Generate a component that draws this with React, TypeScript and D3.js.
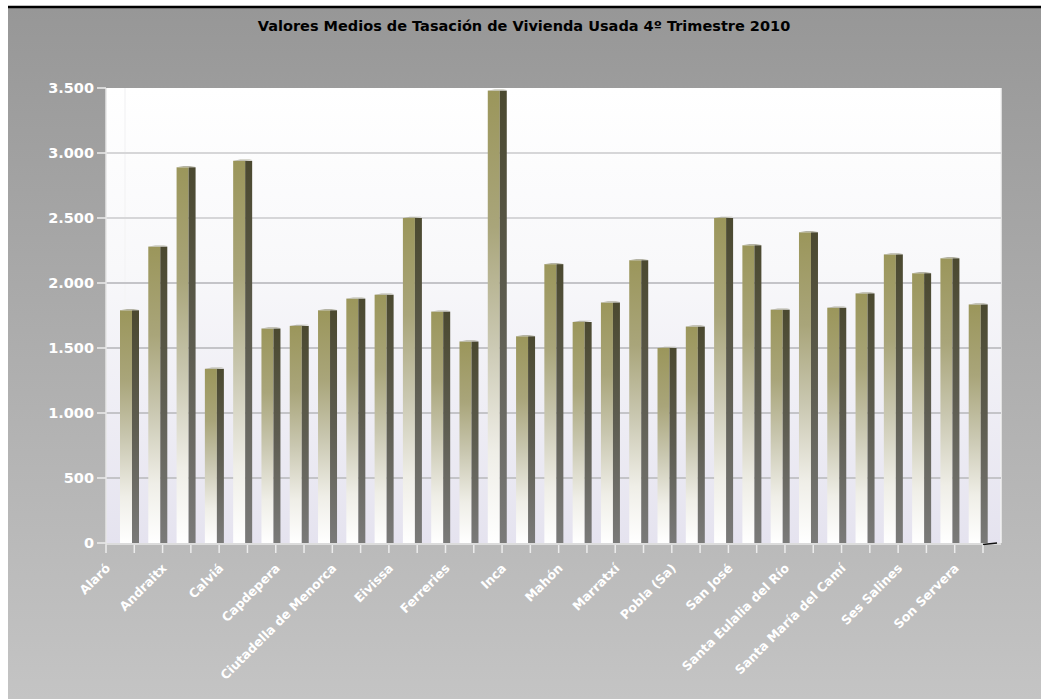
import React from "react";
import * as d3 from "d3";

const TITLE = "Valores Medios de Tasación de Vivienda Usada 4º Trimestre 2010";

const categories = [
  "Alaró", "Alcúdia", "Andraitx", "Artà", "Calviá", "Campos", "Capdepera", "Es Castell",
  "Ciutadella de Menorca", "Deià", "Eivissa", "Felanitx", "Ferreries", "Formentera",
  "Inca", "Llucmajor", "Mahón", "Manacor", "Marratxí", "Palma de Mallorca", "Pobla (Sa)",
  "Pollença", "San José", "Sant Lluís", "Santa Eulalia del Río", "Santa Margalida",
  "Santa María del Camí", "Santanyí", "Ses Salines", "Sóller", "Son Servera",
];

const values = [
  1790, 2280, 2890, 1340, 2940, 1650, 1670, 1790, 1880, 1910, 2500, 1780, 1550, 3480,
  1590, 2145, 1700, 1850, 2175, 1500, 1665, 2500, 2290, 1795, 2390, 1810, 1920, 2220,
  2075, 2190, 1835,
];

const yTicks = [0, 500, 1000, 1500, 2000, 2500, 3000, 3500];

const W = 1041;
const H = 699;
const plot = { left: 106, right: 1001, top: 88, bottom: 543, catEnd: 983 };

const fmt = (v: number) => d3.format(",")(v).replace(/,/g, ".");

export default function App() {
  const x = d3.scaleBand<string>().domain(categories).range([plot.left, plot.catEnd]).padding(0);
  const y = d3.scaleLinear().domain([0, 3500]).range([plot.bottom, plot.top]);
  const step = x.step();
  const frontW = 12;
  const sideW = 7;
  const offset = 14;
  const tickXs = d3.range(categories.length + 1).map((i) => plot.left + i * step);

  return (
    <svg
      width={W}
      height={H}
      style={{ position: "absolute", left: 0, top: 0 }}
      xmlns="http://www.w3.org/2000/svg"
    >
      <defs>
        <linearGradient id="bg" x1="0" y1="0" x2="0" y2="1">
          <stop offset="0" stopColor="#979797" />
          <stop offset="1" stopColor="#c4c4c4" />
        </linearGradient>
        <linearGradient id="plotbg" x1="0" y1="0" x2="0" y2="1">
          <stop offset="0" stopColor="#ffffff" />
          <stop offset="0.4" stopColor="#f8f8fa" />
          <stop offset="1" stopColor="#e5e3ef" />
        </linearGradient>
        <linearGradient id="front" x1="0" y1="0" x2="0" y2="1">
          <stop offset="0" stopColor="#9b965b" />
          <stop offset="0.3" stopColor="#a9a57a" />
          <stop offset="0.55" stopColor="#c9c7b0" />
          <stop offset="0.8" stopColor="#efeee7" />
          <stop offset="1" stopColor="#ffffff" />
        </linearGradient>
        <linearGradient id="side" x1="0" y1="0" x2="0" y2="1">
          <stop offset="0" stopColor="#4b4930" />
          <stop offset="0.5" stopColor="#5e5d51" />
          <stop offset="1" stopColor="#7a7a79" />
        </linearGradient>
      </defs>

      <rect x={0} y={0} width={W} height={H} fill="#ffffff" />
      <rect x={8} y={8} width={W - 8} height={H - 8} fill="url(#bg)" />
      <line x1={8} x2={W} y1={7} y2={7} stroke="#000" strokeWidth={2.5} />

      <text
        x={524}
        y={31}
        textAnchor="middle"
        fontFamily="DejaVu Sans"
        fontWeight="bold"
        fontSize={14.5}
        fill="#000"
      >
        {TITLE}
      </text>

      {/* plot area */}
      <rect
        x={plot.left}
        y={plot.top}
        width={plot.right - plot.left}
        height={plot.bottom - plot.top}
        fill="url(#plotbg)"
      />
      <line x1={125} x2={125} y1={plot.top} y2={plot.bottom} stroke="#f4f4f6" strokeWidth={1.5} />
      <line x1={plot.right} x2={plot.right} y1={plot.top} y2={plot.bottom} stroke="#f2f2f2" strokeWidth={1.5} />

      {yTicks.map((t) => (
        <g key={t}>
          {t > 0 && t < 3500 && (
            <line
              x1={plot.left}
              x2={plot.right}
              y1={y(t)}
              y2={y(t)}
              stroke={t >= 2500 ? "#d6d6d8" : "#c4c4c8"}
              strokeWidth={1.8}
            />
          )}
          <line x1={97} x2={plot.left} y1={y(t)} y2={y(t)} stroke="#ececec" strokeWidth={1.5} />
          <text
            x={94}
            y={y(t)}
            dy="0.36em"
            textAnchor="end"
            fontFamily="DejaVu Sans"
            fontWeight="bold"
            fontSize={14.5}
            fill="#ffffff"
          >
            {fmt(t)}
          </text>
        </g>
      ))}

      {/* bars */}
      {categories.map((c, i) => {
        const x0 = (x(c) as number) + offset;
        const top = y(values[i]);
        const h = plot.bottom - top;
        return (
          <g key={c}>
            <rect x={x0} y={top} width={frontW} height={h} fill="url(#front)" />
            <rect x={x0 + frontW} y={top} width={sideW} height={h} fill="url(#side)" />
            <polygon
              points={`${x0},${top} ${x0 + frontW},${top} ${x0 + frontW + sideW},${top - 1.2} ${x0 + sideW},${top - 1.2}`}
              fill="#b4b3a4"
            />
          </g>
        );
      })}

      {/* x axis */}
      <line x1={plot.left} x2={plot.right} y1={plot.bottom + 1} y2={plot.bottom + 1} stroke="#dcdcdc" strokeWidth={2} />
      <line x1={plot.catEnd} x2={plot.right - 4} y1={plot.bottom + 1.5} y2={plot.bottom} stroke="#111" strokeWidth={1.5} />
      <line x1={plot.left} x2={plot.left} y1={plot.top} y2={plot.bottom + 2} stroke="#e6e6e6" strokeWidth={1.5} />
      {tickXs.map((tx, i) => (
        <line key={i} x1={tx} x2={tx} y1={plot.bottom + 2} y2={plot.bottom + 10} stroke="#ececec" strokeWidth={1.5} />
      ))}
      {categories.map((c, i) =>
        i % 2 === 0 ? (
          <text
            key={c}
            transform={`translate(${(x(c) as number) + 5},${plot.bottom + 26}) rotate(-45)`}
            textAnchor="end"
            fontFamily="DejaVu Sans"
            fontWeight="bold"
            fontSize={12.5}
            fill="#ffffff"
          >
            {c}
          </text>
        ) : null
      )}
    </svg>
  );
}
